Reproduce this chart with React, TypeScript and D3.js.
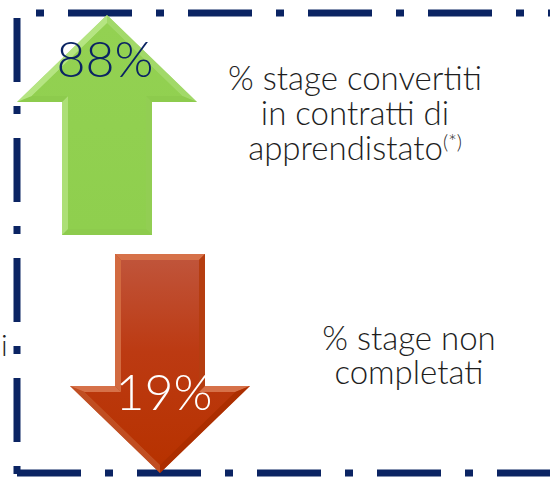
import React from 'react';
import * as d3 from 'd3';

// chart values
const values = [88, 19];
const directions = ['up', 'down'];
const labelLines = [
  ['% stage convertiti', 'in contratti di', 'apprendistato'],
  ['% stage non', 'completati'],
];
const footnote = '(*)';

const W = 550;
const H = 477;
const NAVY = '#0b2463';

type Pt = [number, number];

// offset polygon inward by d (polygon is clockwise in screen coords)
const inset = (pts: Pt[], d: number): Pt[] => {
  const n = pts.length;
  const lines = pts.map((p, i) => {
    const q = pts[(i + 1) % n];
    const dx = q[0] - p[0];
    const dy = q[1] - p[1];
    const len = Math.hypot(dx, dy);
    const nx = -dy / len;
    const ny = dx / len;
    return { p: [p[0] + nx * d, p[1] + ny * d] as Pt, dx, dy };
  });
  return pts.map((_, i) => {
    const a = lines[(i - 1 + n) % n];
    const b = lines[i];
    const den = a.dx * b.dy - a.dy * b.dx;
    const t = ((b.p[0] - a.p[0]) * b.dy - (b.p[1] - a.p[1]) * b.dx) / den;
    return [a.p[0] + a.dx * t, a.p[1] + a.dy * t] as Pt;
  });
};

const poly = (pts: Pt[]) => {
  const p = d3.path();
  pts.forEach((v, i) => (i ? p.lineTo(v[0], v[1]) : p.moveTo(v[0], v[1])));
  p.closePath();
  return p.toString();
};

// arrow outline, clockwise
const arrowPts = (cx: number, y0: number, y1: number, dir: string): Pt[] => {
  const shaft = 45;
  const head = 90;
  const headH = 87;
  if (dir === 'up') {
    const hy = y0 + headH;
    return [
      [cx, y0], [cx + head, hy], [cx + shaft, hy], [cx + shaft, y1],
      [cx - shaft, y1], [cx - shaft, hy], [cx - head, hy],
    ];
  }
  const hy = y1 - headH;
  return [
    [cx, y1], [cx - head, hy], [cx - shaft, hy], [cx - shaft, y0],
    [cx + shaft, y0], [cx + shaft, hy], [cx + head, hy],
  ];
};

const Arrow = ({ pts, base, light, dark, grad }: any) => {
  const inner = inset(pts, 6);
  const n = pts.length;
  const faceColor = (i: number) => {
    const p = pts[i];
    const q = pts[(i + 1) % n];
    const dx = q[0] - p[0];
    const dy = q[1] - p[1];
    const len = Math.hypot(dx, dy);
    // outward normal
    const nx = dy / len;
    const ny = -dx / len;
    const lit = -nx * 0.6 - ny * 0.8;
    const t = (lit + 1) / 2;
    return d3.interpolateRgb(dark, light)(t);
  };
  return (
    <g>
      <path d={poly(pts)} fill={base} />
      {pts.map((p, i) => {
        const j = (i + 1) % n;
        return (
          <path
            key={i}
            d={poly([p, pts[j], inner[j], inner[i]])}
            fill={faceColor(i)}
            opacity={0.65}
          />
        );
      })}
      <path d={poly(inner)} fill={grad} />
    </g>
  );
};

const App = () => {
  const cx = d3.scaleOrdinal<string, number>().domain(directions).range([107, 160]);
  const yTop = d3.scaleOrdinal<string, number>().domain(directions).range([15, 254]);
  const yBot = d3.scaleOrdinal<string, number>().domain(directions).range([235, 473]);

  const fmt = (v: number) => `${v}%`;
  const dash = '64 24 8 24';
  const font = 'Lato, "Noto Sans", sans-serif';

  const upPts = arrowPts(cx('up'), yTop('up'), yBot('up'), 'up');
  const downPts = arrowPts(cx('down'), yTop('down'), yBot('down'), 'down');

  return (
    <svg
      width={W}
      height={H}
      style={{ position: 'absolute', left: 0, top: 0, background: '#fff' }}
      fontFamily={font}
    >
      <defs>
        <linearGradient id="gGreen" x1="0" y1="0" x2="0" y2="1">
          <stop offset="0" stopColor="#93d152" />
          <stop offset="1" stopColor="#8fcf4e" />
        </linearGradient>
        <linearGradient id="gRed" x1="0" y1="0" x2="0" y2="1">
          <stop offset="0" stopColor="#c0543a" />
          <stop offset="0.45" stopColor="#bc3a12" />
          <stop offset="1" stopColor="#b73200" />
        </linearGradient>
      </defs>

      {/* dashed frame */}
      <line x1={14} x2={W} y1={13} y2={13} stroke={NAVY} strokeWidth={7} strokeDasharray={dash} strokeDashoffset={66} />
      <line x1={17} x2={17} y1={13} y2={477} stroke={NAVY} strokeWidth={7} strokeDasharray={dash} strokeDashoffset={115} />
      <line x1={17} x2={W} y1={473} y2={473} stroke={NAVY} strokeWidth={7} strokeDasharray={dash} strokeDashoffset={0} />

      <text x={1} y={356} fontSize={30} fill="#222" fontWeight={300}>i</text>

      <Arrow pts={upPts} base="#92d050" light="#c8f09c" dark="#84c343" grad="url(#gGreen)" />
      <Arrow pts={downPts} base="#b83300" light="#eea07c" dark="#a62c00" grad="url(#gRed)" />

      <text x={cx('up') - 2} y={77} textAnchor="middle" fontSize={50} fill={NAVY} fontWeight={300}>
        {fmt(values[0])}
      </text>
      <text x={cx('down') + 4} y={410} textAnchor="middle" fontSize={50} fill="#fff" fontWeight={300}>
        {fmt(values[1])}
      </text>

      <text textAnchor="middle" fontSize={33} fill="#1e1e1e" fontWeight={300}>
        {labelLines[0].map((l, i) => (
          <tspan key={i} x={355} y={90 + i * 35}>
            {l}
            {i === 2 && (
              <tspan fontSize={20} dy={-11}>{footnote}</tspan>
            )}
          </tspan>
        ))}
      </text>

      <text textAnchor="middle" fontSize={33} fill="#1e1e1e" fontWeight={300}>
        {labelLines[1].map((l, i) => (
          <tspan key={i} x={409} y={350 + i * 34}>{l}</tspan>
        ))}
      </text>
    </svg>
  );
};

export default App;
